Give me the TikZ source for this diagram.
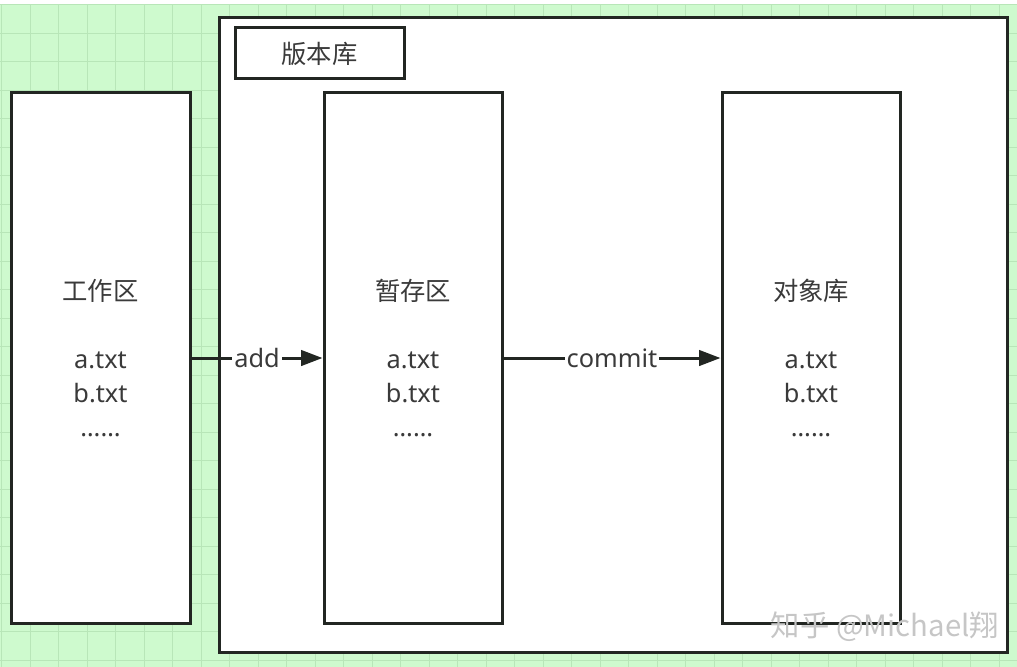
\documentclass[tikz,border=0pt]{standalone}
\usepackage{fontspec}
\setmainfont{Noto Sans}
\newfontfamily\cjk{Noto Sans CJK SC}
\usepackage{tikz}
\usetikzlibrary{arrows.meta}
\definecolor{canvasgreen}{RGB}{206,250,206}
\definecolor{gridgreen}{RGB}{184,230,184}
\definecolor{boxline}{RGB}{34,38,34}
\definecolor{labeltext}{RGB}{58,58,58}
\tikzset{
  area/.style={draw=boxline, line width=2.25pt, fill=white, inner sep=0pt,
    text=labeltext, align=center, font=\fontsize{19}{25.5}\selectfont},
  flow/.style={draw=boxline, line width=2.25pt, -{Triangle[length=16pt,width=11.5pt]}},
  tag/.style={fill=white, inner sep=1.5pt, text=labeltext, font=\fontsize{19}{25.5}\selectfont}
}
\begin{document}
\begin{tikzpicture}[x=0.75pt,y=0.75pt,yscale=-1,xscale=1]
\useasboundingbox (0,0) rectangle (1017,667);
%canvas
\fill [canvasgreen] (0,0) rectangle (1017,667);
\begin{scope}[shift={(1.5,4.5)}]
\draw [gridgreen, line width=0.6pt, step=28.5] (-1.5,-0.5) grid (1015.5,662.5);
\end{scope}
\fill [white] (0,0) rectangle (1017,4);
%outer box
\node [area, minimum width=591pt, minimum height=475.5pt] (repo) at (613,335) {};
\node [area, minimum width=126.75pt, minimum height=38.25pt] (repotitle) at (319.5,53.5) {\cjk 版本库};
%areas
\node [area, minimum width=134.25pt, minimum height=397.5pt] (work) at (100.5,358) {{\cjk 工作区}\\[25.5pt]a.txt\\b.txt\\……};
\node [area, minimum width=133.5pt, minimum height=397.5pt] (stage) at (413,358) {{\cjk 暂存区}\\[25.5pt]a.txt\\b.txt\\……};
\node [area, minimum width=133.5pt, minimum height=397.5pt] (objects) at (811,358) {{\cjk 对象库}\\[25.5pt]a.txt\\b.txt\\……};
%arrows
\draw [flow] (work) -- node [tag] (addtag) {add} (stage);
\draw [flow] (stage) -- node [tag] (committag) {commit} (objects);
% watermark
\node [text=gray!45, font=\cjk\fontsize{22}{24}\selectfont] (mark) at (885,627) {知乎 @Michael翔};
\end{tikzpicture}
\end{document}
